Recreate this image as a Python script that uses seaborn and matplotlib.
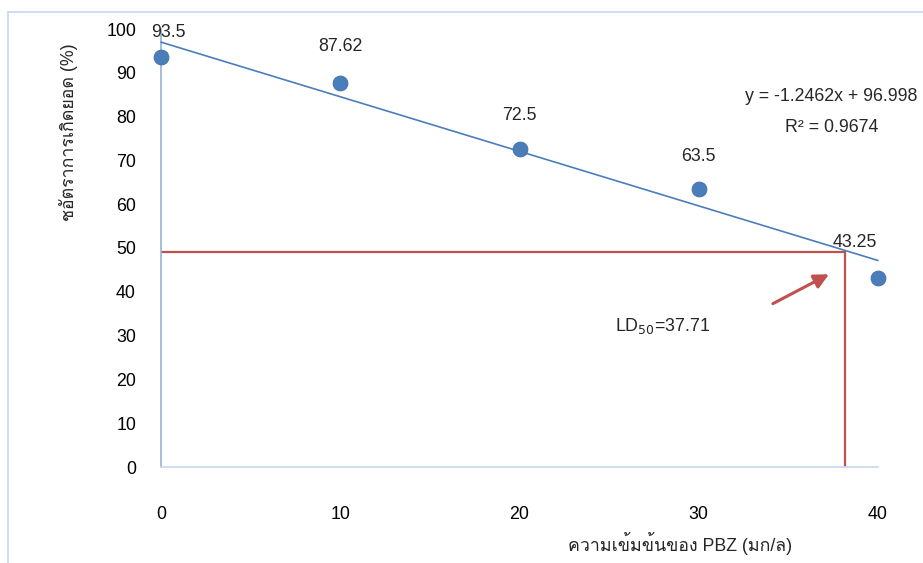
import seaborn as sns
import pandas as pd
import numpy as np
import matplotlib.pyplot as plt
from matplotlib.lines import Line2D
from matplotlib import font_manager
from fontTools.ttLib import TTFont

# ความเข้มข้นของ PBZ และอัตราการเกิดยอด
conc = [0, 10, 20, 30, 40]
rate = [93.5, 87.62, 72.5, 63.5, 43.25]
labels = ['93.5', '87.62', '72.5', '63.5', '43.25']

ld_x = 38.15   # ตำแหน่งเส้นแดงตามภาพ
ld_y = 49.2
eq_text = 'y = -1.2462x + 96.998'
r2_text = 'R² = 0.9674'

df = pd.DataFrame({'conc': conc, 'rate': rate})

# หาฟอนต์ที่มีอักษรไทย
thai = []
for f in font_manager.fontManager.ttflist:
    try:
        tt = TTFont(f.fname, fontNumber=0, lazy=True)
        if 0x0E01 in tt.getBestCmap() and f.name not in thai:
            thai.append(f.name)
    except Exception:
        pass

sns.set_style('white')
plt.rcParams['font.family'] = ['Liberation Sans'] + thai + ['DejaVu Sans']

fig = plt.figure(figsize=(9.23, 5.63), dpi=100)
ax = fig.add_axes([161 / 923, 1 - 467 / 563, 717 / 923, 438 / 563])

blue = '#4F81BD'
red = '#C0504D'
fs = 12.8

sns.regplot(data=df, x='conc', y='rate', ci=None, ax=ax,
            scatter_kws={'s': 115, 'color': '#4A7EBB', 'edgecolor': '#3F6EA8', 'linewidths': 0.6,
                         'alpha': 1, 'clip_on': False, 'zorder': 4},
            line_kws={'color': '#4A7EBB', 'lw': 1.2, 'clip_on': False, 'zorder': 3})

# เส้น LD50
ax.plot([0, ld_x], [ld_y, ld_y], color=red, lw=1.6, zorder=2)
ax.plot([ld_x, ld_x], [0, ld_y], color=red, lw=1.6, zorder=2)
ax.annotate('', xy=(37.4, 44.3), xytext=(34.0, 37.0),
            arrowprops=dict(arrowstyle='-|>', color=red, lw=2.2, mutation_scale=22))
ax.text(25.3, 32.3, 'LD$_{50}$=37.71', fontsize=fs, ha='left', va='center')

# ป้ายค่า
offs = [(7, 25), (0, 37), (0, 34), (0, 32), (-23, 35)]
for x, y, t, o in zip(conc, rate, labels, offs):
    ax.annotate(t, (x, y), xytext=o, textcoords='offset pixels',
                ha='center', va='center', fontsize=fs)

ax.text(37.4, 84.5, eq_text, fontsize=fs, ha='center', va='center')
ax.text(37.4, 77.6, r2_text, fontsize=fs, ha='center', va='center')

ax.set_xlim(0, 40)
ax.set_ylim(0, 100)
ax.set_xticks(conc)
ax.set_yticks(np.arange(0, 101, 10))
ax.tick_params(axis='both', length=0, labelsize=fs, labelcolor='black')
ax.tick_params(axis='x', pad=28)
ax.tick_params(axis='y', pad=18)
sns.despine(ax=ax)
ax.spines['left'].set_color('#95B3D7')
ax.spines['bottom'].set_color('#C6D9F1')
ax.spines['left'].set_linewidth(1.2)
ax.spines['bottom'].set_linewidth(1.2)

ax.set_xlabel('ความเข้มข้นของ PBZ (มก/ล)', fontsize=fs, va='center')
ax.xaxis.set_label_coords((680 - 161) / 717, -(543 - 467) / 438)
ax.set_ylabel('ชอัตราการเกิดยอด (%)', fontsize=fs, va='center')
ax.yaxis.set_label_coords(-(161 - 68) / 717, (467 - 132) / 438)

# กรอบนอก
fig.add_artist(Line2D([8 / 923, 1], [1 - 12 / 563, 1 - 12 / 563], color='#C6D9F1', lw=1.2))
fig.add_artist(Line2D([8 / 923, 8 / 923], [0, 1 - 12 / 563], color='#C6D9F1', lw=1.2))

fig.savefig('out.png', dpi=100)
